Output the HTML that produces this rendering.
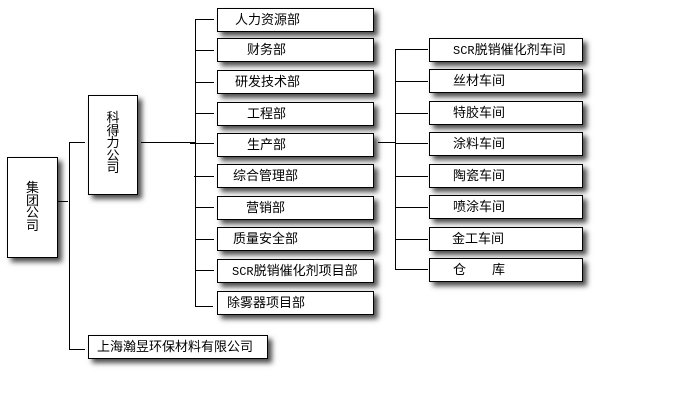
<!DOCTYPE html>
<html>
<head>
<meta charset="utf-8">
<style>
  html,body{margin:0;padding:0;background:#fff;}
  body{width:680px;height:400px;position:relative;overflow:hidden;
       font-family:"Liberation Sans","Noto Sans CJK SC",sans-serif;font-size:13px;color:#000;}
  .b{position:absolute;box-sizing:border-box;border:1px solid #000;background:#fff;
     box-shadow:4px 4px 5px rgba(0,0,0,0.7);}
  .h{height:24px;line-height:22px;white-space:nowrap;}
  .v{text-align:center;line-height:12.6px;}
  .m{font-family:"Liberation Mono",monospace;font-size:12px;}
  svg{position:absolute;left:0;top:0;}
</style>
</head>
<body>
<svg width="680" height="400" xmlns="http://www.w3.org/2000/svg">
  <g stroke="#000" stroke-width="1" fill="none" shape-rendering="crispEdges">
    <line x1="58" y1="201.5" x2="68" y2="201.5"/>
    <line x1="69.5" y1="142" x2="69.5" y2="350"/>
    <line x1="69" y1="142.5" x2="85" y2="142.5"/>
    <line x1="69" y1="349.5" x2="85" y2="349.5"/>
    <line x1="141" y1="142.5" x2="195" y2="142.5"/>
    <line x1="195.5" y1="19" x2="195.5" y2="307"/>
    <line x1="195" y1="19.5" x2="214" y2="19.5"/>
    <line x1="195" y1="50.5" x2="214" y2="50.5"/>
    <line x1="195" y1="82.5" x2="214" y2="82.5"/>
    <line x1="195" y1="113.5" x2="214" y2="113.5"/>
    <line x1="190" y1="143.5" x2="214" y2="143.5"/>
    <line x1="194" y1="176.5" x2="214" y2="176.5"/>
    <line x1="195" y1="207.5" x2="214" y2="207.5"/>
    <line x1="195" y1="239.5" x2="214" y2="239.5"/>
    <line x1="195" y1="270.5" x2="214" y2="270.5"/>
    <line x1="195" y1="306.5" x2="213" y2="306.5"/>
    <line x1="378" y1="142.5" x2="395" y2="142.5"/>
    <line x1="395.5" y1="49" x2="395.5" y2="270"/>
    <line x1="395" y1="49.5" x2="428" y2="49.5"/>
    <line x1="395" y1="81.5" x2="428" y2="81.5"/>
    <line x1="395" y1="113.5" x2="428" y2="113.5"/>
    <line x1="395" y1="143.5" x2="428" y2="143.5"/>
    <line x1="395" y1="176.5" x2="428" y2="176.5"/>
    <line x1="395" y1="207.5" x2="428" y2="207.5"/>
    <line x1="395" y1="239.5" x2="428" y2="239.5"/>
    <line x1="395" y1="269.5" x2="428" y2="269.5"/>
  </g>
</svg>

<div class="b v" style="left:7px;top:157px;width:51px;height:101px;padding-top:24px;">集<br>团<br>公<br>司</div>
<div class="b v" style="left:88px;top:95px;width:50px;height:100px;padding-top:16px;">科<br>得<br>力<br>公<br>司</div>
<div class="b h" style="left:88px;top:335px;width:180px;padding-left:8px;">上海瀚昱环保材料有限公司</div>

<div class="b h" style="left:217px;top:8px;width:157px;padding-left:17px;">人力资源部</div>
<div class="b h" style="left:217px;top:38px;width:157px;padding-left:29px;">财务部</div>
<div class="b h" style="left:217px;top:70px;width:157px;padding-left:17px;">研发技术部</div>
<div class="b h" style="left:217px;top:102px;width:157px;padding-left:29px;">工程部</div>
<div class="b h" style="left:217px;top:133px;width:157px;padding-left:29px;">生产部</div>
<div class="b h" style="left:217px;top:164px;width:157px;padding-left:15px;">综合管理部</div>
<div class="b h" style="left:217px;top:196px;width:157px;padding-left:28px;">营销部</div>
<div class="b h" style="left:217px;top:227px;width:157px;padding-left:15px;">质量安全部</div>
<div class="b h" style="left:217px;top:259px;width:157px;padding-left:14px;"><span class="m">SCR</span>脱销催化剂项目部</div>
<div class="b h" style="left:217px;top:291px;width:157px;padding-left:9px;">除雾器项目部</div>

<div class="b h" style="left:429px;top:38px;width:154px;padding-left:23px;"><span class="m">SCR</span>脱销催化剂车间</div>
<div class="b h" style="left:429px;top:69px;width:154px;padding-left:23px;">丝材车间</div>
<div class="b h" style="left:429px;top:101px;width:154px;padding-left:23px;">特胶车间</div>
<div class="b h" style="left:429px;top:132px;width:154px;padding-left:23px;">涂料车间</div>
<div class="b h" style="left:429px;top:164px;width:154px;padding-left:23px;">陶瓷车间</div>
<div class="b h" style="left:429px;top:195px;width:154px;padding-left:23px;">喷涂车间</div>
<div class="b h" style="left:429px;top:227px;width:154px;padding-left:22px;">金工车间</div>
<div class="b h" style="left:429px;top:258px;width:154px;padding-left:23px;">仓　　库</div>
</body>
</html>
